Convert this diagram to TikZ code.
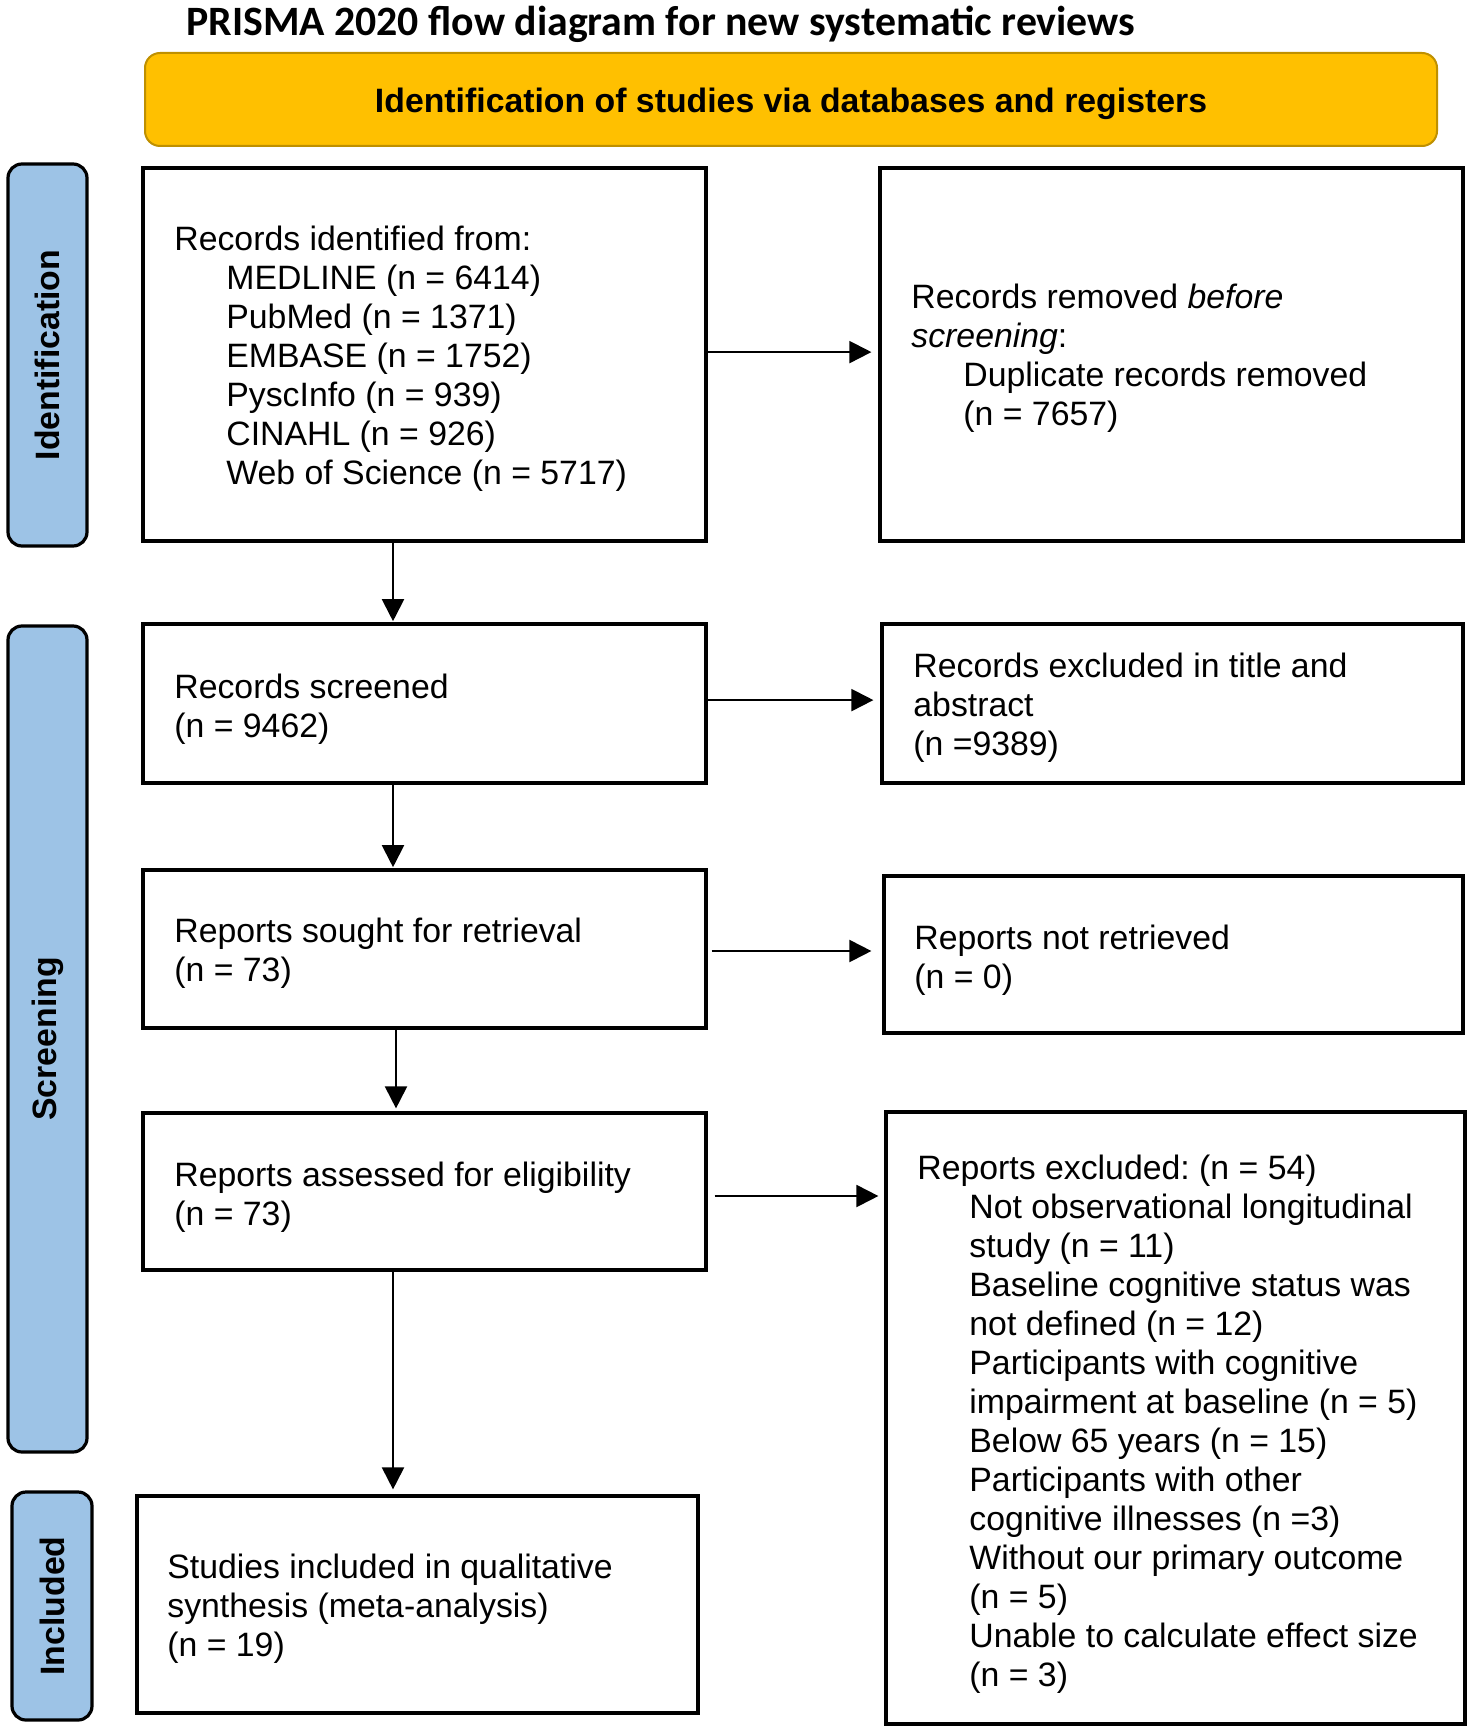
\documentclass[tikz,border=0pt]{standalone}
\usepackage{fontspec}
\setmainfont{Liberation Sans}
\newfontfamily\titlefont{Carlito}
\usetikzlibrary{arrows.meta,fit}
\definecolor{bandorange}{HTML}{FFC000}
\definecolor{banddraw}{HTML}{BF9000}
\definecolor{sideblue}{HTML}{9DC3E6}
\newcommand\bodyfont{\fontsize{16.9pt}{19.5pt}\selectfont\frenchspacing}
\newcommand\ind{\hspace*{26pt}}
\begin{document}
\begin{tikzpicture}[x=0.5pt,y=-0.5pt,
  box/.style={draw=black, line width=1.6pt, inner sep=0pt},
  side/.style={draw=black, line width=1.6pt, fill=sideblue, rounded corners=7pt, inner sep=0pt},
  sidetext/.style={rotate=90, font=\bodyfont\bfseries, inner sep=0pt},
  txt/.style={anchor=base west, inner sep=0pt, align=left, font=\bodyfont},
  arr/.style={line width=1pt, -{Triangle[length=11pt,width=11pt]}}]
\useasboundingbox (0,0) rectangle (1475,1733);

% title
\node[anchor=base west, inner sep=0pt, font=\titlefont\fontsize{20.9pt}{24pt}\selectfont\bfseries] (title) at (186,36) {PRISMA 2020 flow diagram for new systematic reviews};

% orange band
\node[draw=banddraw, line width=1pt, fill=bandorange, rounded corners=7.5pt, inner sep=0pt,
      fit={(145,53) (1437,146)}] (band) {};
\node[font=\bodyfont\bfseries, inner sep=0pt, yshift=-2.2pt] (bandt) at (band.center) {Identification of studies via databases and registers};

% side bars
\node[side, fit={(8,164) (87,546)}] (sid) {};
\node[sidetext] (sidt) at (sid.center) {Identification};
\node[side, fit={(8,626) (87,1452)}] (sscr) {};
\node[sidetext] (sscrt) at (sscr.center) {Screening};
\node[side, fit={(12,1492) (92,1720)}] (sinc) {};
\node[sidetext] (sinct) at (sinc.center) {Included};

% boxes
\node[box, fit={(143,168) (706,541)}] (b1) {};
\node[box, fit={(880,168) (1463,541)}] (r1) {};
\node[box, fit={(143,624) (706,783)}] (b2) {};
\node[box, fit={(882,624) (1463,783)}] (r2) {};
\node[box, fit={(143,870) (706,1028)}] (b3) {};
\node[box, fit={(884,876) (1463,1033)}] (r3) {};
\node[box, fit={(143,1113) (706,1270)}] (b4) {};
\node[box, fit={(886,1112) (1465,1724)}] (r4) {};
\node[box, fit={(137,1496) (698,1713)}] (b5) {};

% texts (anchored at the baseline of their last line)
\node[txt] (t1) at (174,484) {Records identified from:\\
\ind MEDLINE (n = 6414)\\
\ind PubMed (n = 1371)\\
\ind EMBASE (n = 1752)\\
\ind PyscInfo (n = 939)\\
\ind CINAHL (n = 926)\\
\ind Web of Science (n = 5717)};
\node[txt] (tr1) at (911,425) {Records removed \textit{before}\\
\textit{screening}:\\
\ind Duplicate records removed\\
\ind (n = 7657)};
\node[txt] (t2) at (174,737) {Records screened\\(n = 9462)};
\node[txt] (tr2) at (913,755) {Records excluded in title and\\abstract\\(n =9389)};
\node[txt] (t3) at (174,981) {Reports sought for retrieval\\(n = 73)};
\node[txt] (tr3) at (914,988) {Reports not retrieved\\(n = 0)};
\node[txt] (t4) at (174,1225) {Reports assessed for eligibility\\(n = 73)};
\node[txt] (tr4) at (917,1686) {Reports excluded: (n = 54)\\
\ind Not observational longitudinal\\
\ind study (n = 11)\\
\ind Baseline cognitive status was\\
\ind not defined (n = 12)\\
\ind Participants with cognitive\\
\ind impairment at baseline (n = 5)\\
\ind Below 65 years (n = 15)\\
\ind Participants with other\\
\ind cognitive illnesses (n =3)\\
\ind Without our primary outcome\\
\ind (n = 5)\\
\ind Unable to calculate effect size\\
\ind (n = 3)};
\node[txt] (t5) at (167,1656) {Studies included in qualitative\\synthesis (meta-analysis)\\(n = 19)};

% connectors
\coordinate (xa) at (393,0);
\coordinate (xb) at (396,0);
\draw[arr, shorten >=0.6pt] (b1.south -| xa) -- (b2.north -| xa);
\draw[arr, shorten >=0.6pt] (b2.south -| xa) -- (b3.north -| xa);
\draw[arr, shorten >=1.5pt] (b3.south -| xb) -- (b4.north -| xb);
\draw[arr, shorten >=2.5pt] (b4.south -| xa) -- (b5.north -| xa);

\draw[arr, shorten >=3.5pt] ([yshift=1.2pt]b1.east) -- ([yshift=1.2pt]b1.east -| r1.west);
\draw[arr, shorten >=3.5pt] ([yshift=1.7pt]b2.east) -- ([yshift=1.7pt]b2.east -| r2.west);
\draw[arr, shorten <=2pt, shorten >=5.5pt] ([yshift=-1pt]b3.east) -- ([yshift=-1pt]b3.east -| r3.west);
\draw[arr, shorten <=3.5pt, shorten >=3pt] ([yshift=-2.25pt]b4.east) -- ([yshift=-2.25pt]b4.east -| r4.west);
\end{tikzpicture}
\end{document}
